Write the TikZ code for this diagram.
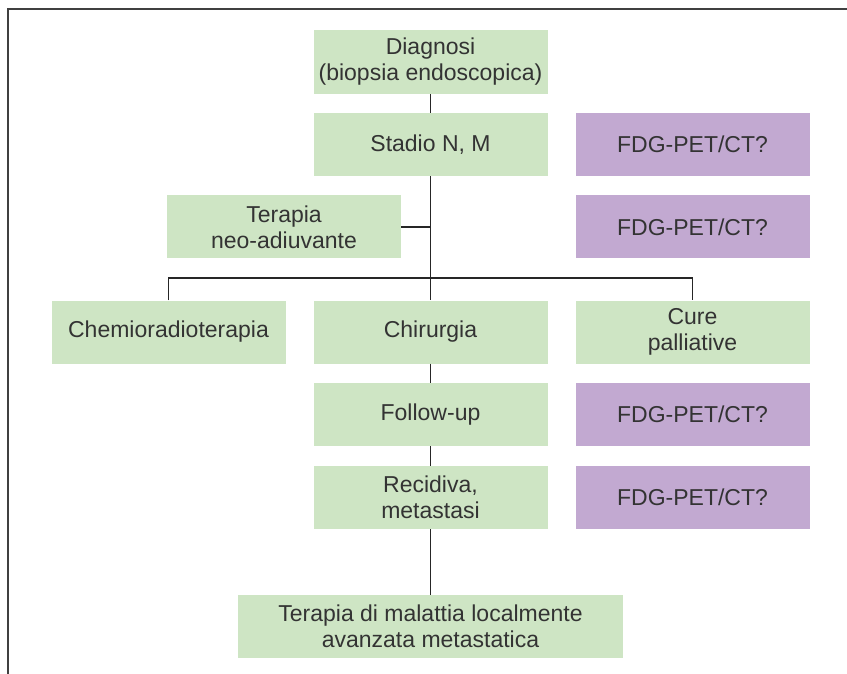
\documentclass[tikz,border=0pt]{standalone}
\usepackage{fontspec}
\setmainfont{Liberation Sans}
\definecolor{boxgreen}{HTML}{CEE5C4}
\definecolor{boxpurple}{HTML}{C2A9D1}
\definecolor{txt}{HTML}{333333}
\begin{document}
\begin{tikzpicture}[x=1pt,y=1pt,
  box/.style={fill=boxgreen, draw=none, minimum width=234pt, minimum height=63pt, inner sep=0pt, align=center, text=txt, font=\fontsize{23}{26}\selectfont},
  petbox/.style={box, fill=boxpurple},
  link/.style={draw=black!85, line width=1.2pt},
  frameline/.style={draw=black!75, line width=2pt}]
\useasboundingbox (0,0) rectangle (847,-674);
\draw[frameline] (7.5,-674) -- (7.5,-9.5) -- (847,-9.5);

\node[box, minimum height=64pt] (diag) at (430.5,-62) {Diagnosi\\(biopsia endoscopica)};
\node[box] (stadio) at (430.5,-144.5) {Stadio N, M};
\node[petbox] (fdg1) at (692.5,-144.5) {FDG-PET/CT?};
\node[box] (neo) at (284,-227) {Terapia\\neo-adiuvante};
\node[petbox] (fdg2) at (692.5,-227) {FDG-PET/CT?};
\node[box] (chemio) at (168.5,-332) {Chemioradioterapia};
\node[box] (chir) at (430.5,-332) {Chirurgia};
\node[box] (cure) at (692.5,-332) {Cure\\palliative};
\node[box] (follow) at (430.5,-414.5) {Follow-up};
\node[petbox] (fdg3) at (692.5,-414.5) {FDG-PET/CT?};
\node[box] (recid) at (430.5,-497.5) {Recidiva,\\metastasi};
\node[petbox] (fdg4) at (692.5,-497.5) {FDG-PET/CT?};
\node[box, minimum width=385pt] (final) at (430.5,-626.5) {Terapia di malattia localmente\\avanzata metastatica};

\coordinate (jn) at (430.5,-227);
\coordinate (j) at (430.5,-278);

\draw[link] (diag.south) -- (stadio.north);
\draw[link] (stadio.south) -- (j);
\draw[link] (neo.east) -- (jn);
\draw[link] (chemio.north) -- (chemio.north |- j) -- (cure.north |- j) -- (cure.north);
\draw[link] (j) -- (chir.north);
\draw[link] (chir.south) -- (follow.north);
\draw[link] (follow.south) -- (recid.north);
\draw[link] (recid.south) -- (final.north);
\end{tikzpicture}
\end{document}
